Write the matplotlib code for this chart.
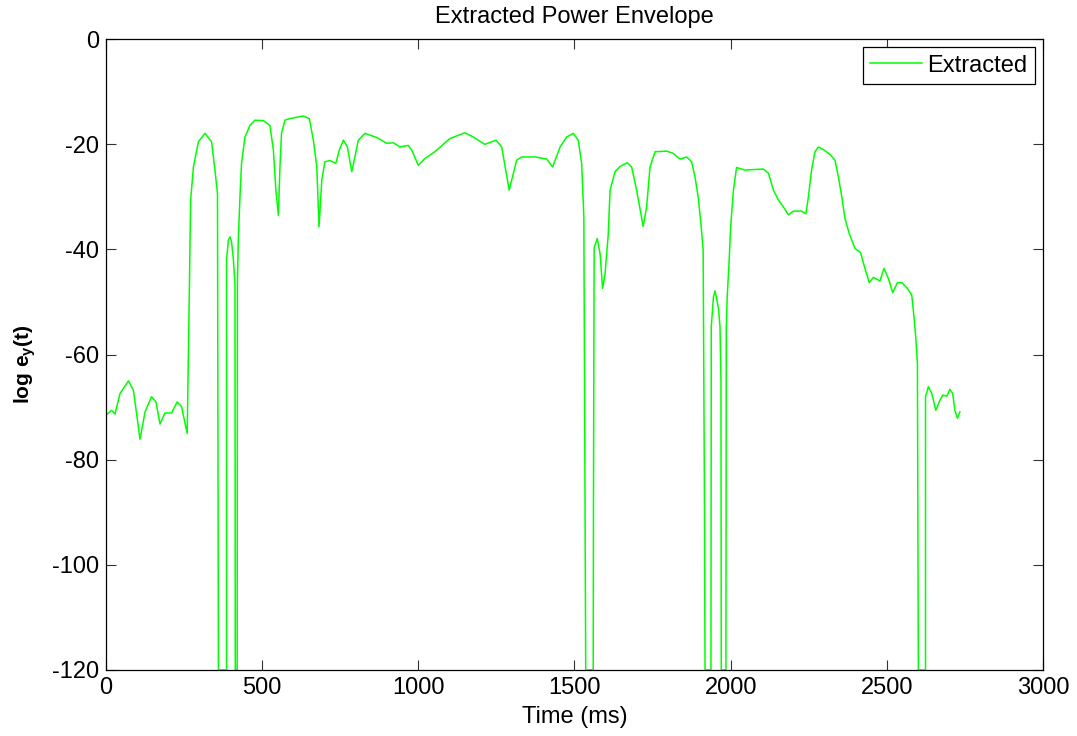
import numpy as np
import matplotlib.pyplot as plt

plt.rcParams['font.family'] = ['Liberation Sans', 'DejaVu Sans']
plt.rcParams['mathtext.fontset'] = 'custom'
plt.rcParams['mathtext.rm'] = 'Liberation Sans'
plt.rcParams['mathtext.it'] = 'Liberation Sans'
plt.rcParams['mathtext.bf'] = 'Liberation Sans:bold'
plt.rcParams['axes.unicode_minus'] = False

green = '#00ff00'

# digitized envelope (time in ms, log power)
time_ms = [0, 18, 29, 45, 72, 88, 109, 125, 146, 160, 173, 189, 210, 228, 242, 260,
           267, 271, 280, 296, 317, 338, 349, 357, 360, 386, 386, 392, 397, 402, 408, 413,
           414, 420, 421, 424, 429, 434, 445, 461, 477, 504, 525, 536, 544, 552, 557, 562,
           573, 589, 632, 651, 664, 675, 682, 691, 701, 717, 736, 747, 760, 773, 787, 797,
           808, 829, 867, 899, 920, 941, 968, 979, 1000, 1021, 1053, 1101, 1149, 1176, 1213,
           1249, 1267, 1291, 1315, 1331, 1374, 1411, 1430, 1454, 1475, 1496, 1512, 1523,
           1530, 1536, 1560, 1561, 1563, 1573, 1582, 1590, 1598, 1603, 1608, 1614, 1630,
           1646, 1669, 1683, 1699, 1720, 1731, 1742, 1758, 1795, 1816, 1838, 1859, 1875,
           1886, 1896, 1905, 1912, 1916, 1918, 1937, 1938, 1945, 1950, 1955, 1961, 1966,
           1969, 1970, 1985, 1986, 1989, 1995, 2000, 2009, 2019, 2030, 2046, 2072, 2105,
           2121, 2137, 2153, 2169, 2185, 2201, 2227, 2241, 2249, 2259, 2270, 2281, 2297,
           2318, 2334, 2345, 2356, 2366, 2380, 2398, 2416, 2430, 2444, 2457, 2478, 2491,
           2505, 2519, 2534, 2548, 2566, 2580, 2587, 2593, 2598, 2601, 2624, 2624, 2633,
           2644, 2657, 2670, 2679, 2692, 2702, 2711, 2718, 2726, 2734]
log_ey = [-71.5, -70.6, -71.3, -67.4, -65.0, -66.8, -76.1, -70.9, -68.0, -69.0, -73.2, -71.1, -71.1, -69.0, -69.9, -75.0,
          -47.7, -30.6, -24.3, -19.5, -17.9, -19.5, -24.9, -29.4, -120, -120, -42.0, -38.2, -37.6, -38.5, -42.0, -46.5,
          -120, -120, -45.8, -37.6, -30.0, -23.6, -18.6, -16.4, -15.4, -15.5, -16.4, -21.1, -28.7, -33.5, -24.3, -17.9,
          -15.4, -15.1, -14.6, -15.1, -19.2, -24.3, -35.7, -26.8, -23.3, -23.1, -23.6, -21.1, -19.2, -20.5, -25.2, -22.4,
          -19.2, -17.9, -18.7, -19.8, -19.7, -20.5, -20.2, -21.1, -24.0, -22.7, -21.4, -18.9, -17.8, -18.6, -20.0,
          -19.2, -20.5, -28.7, -23.0, -22.4, -22.4, -22.8, -24.3, -20.5, -18.6, -17.9, -19.2, -23.6,
          -33.8, -120, -120, -83.9, -39.7, -37.9, -40.8, -47.4, -44.6, -40.8, -37.3, -28.7, -25.2,
          -24.2, -23.5, -24.3, -28.7, -35.6, -31.9, -24.3, -21.4, -21.3, -21.7, -22.8, -22.4, -23.3,
          -26.2, -30.0, -35.1, -40.1, -86.0, -120, -120, -54.7, -49.0, -47.9, -49.3, -51.2, -54.7,
          -65.2, -120, -120, -55.0, -49.0, -42.4, -35.7, -28.7, -24.4, -24.6, -24.9, -24.8, -24.7,
          -25.5, -28.7, -30.6, -31.9, -33.4, -32.7, -32.7, -33.2, -30.0, -24.9, -21.4, -20.5, -21.0,
          -21.9, -23.0, -26.2, -30.0, -34.1, -37.0, -39.8, -40.6, -43.6, -46.3, -45.3, -46.0, -43.6,
          -45.5, -48.2, -46.3, -46.3, -47.4, -48.7, -52.8, -56.9, -61.7, -120, -120, -68.0, -66.1,
          -67.4, -70.6, -68.7, -67.7, -67.9, -66.6, -67.4, -70.6, -72.1, -70.9]

x_ticks = [0, 500, 1000, 1500, 2000, 2500, 3000]
y_ticks = [0, -20, -40, -60, -80, -100, -120]

fig = plt.figure(figsize=(10.77, 7.36), dpi=100)
ax = fig.add_axes([0.0984, 0.0897, 0.870, 0.857])

ax.plot(time_ms, log_ey, color=green, lw=1.1, label='Extracted')

ax.set_xlim(0, 3000)
ax.set_ylim(-120, 0)
ax.set_xticks(x_ticks)
ax.set_yticks(y_ticks)
ax.tick_params(direction='in', length=7, width=0.8, color='#333333', top=True, right=True,
               labelsize=17, pad=5)
for s in ax.spines.values():
    s.set_linewidth(0.9)

ax.set_title('Extracted Power Envelope', fontsize=17, pad=12)
ax.set_xlabel('Time (ms)', fontsize=17, labelpad=5)
ax.set_ylabel('log e$_\\mathbf{y}$(t)', fontsize=15, fontweight='bold', labelpad=10)
ax.yaxis.label.set_y(0.485)

leg = ax.legend(loc='upper right', fontsize=17, fancybox=False, framealpha=1,
                edgecolor='black', borderaxespad=0.35, handlelength=2.2,
                handletextpad=0.25, borderpad=0.3)
leg.get_frame().set_linewidth(0.9)

fig.savefig('out.png', dpi=100)
